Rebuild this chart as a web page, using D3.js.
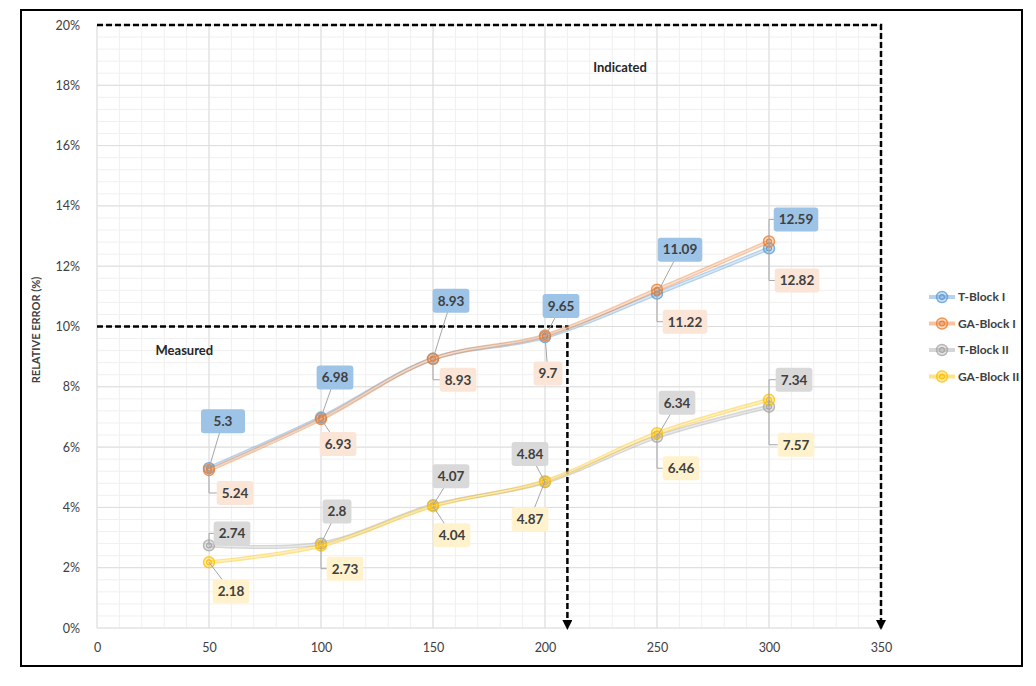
<!DOCTYPE html>
<html>
<head>
<meta charset="utf-8">
<script src="https://cdn.jsdelivr.net/npm/d3@7"></script>
<style>
  body { margin: 0; background: #fff; }
  text { font-family: Lato, "Open Sans", sans-serif; }
</style>
</head>
<body>
<div id="chart"></div>
<script>
// chart size and plot area
const width = 1036, height = 686;
const margins = { top: 25, bottom: 58, left: 97, right: 155 };

// data
const loads = [50, 100, 150, 200, 250, 300];
const seriesNames = ["T-Block I", "GA-Block I", "T-Block II", "GA-Block II"];
const tBlock1 = [5.3, 6.98, 8.93, 9.65, 11.09, 12.59];
const gaBlock1 = [5.24, 6.93, 8.93, 9.7, 11.22, 12.82];
const tBlock2 = [2.74, 2.8, 4.07, 4.84, 6.34, 7.34];
const gaBlock2 = [2.18, 2.73, 4.04, 4.87, 6.46, 7.57];
const xTicks = [0, 50, 100, 150, 200, 250, 300, 350];
const yTicks = [0, 2, 4, 6, 8, 10, 12, 14, 16, 18, 20];

// reference guides (dashed) and their notes
const measuredLimit = { x: 210, y: 10 };
const indicatedLimit = { x: 350, y: 20 };
const notes = [
  { text: "Measured", x: 39, y: 9.2 },
  { text: "Indicated", x: 233.5, y: 18.6 }
];

// styling per series
const lineColors = ["#5b9bd5", "#ed7d31", "#a5a5a5", "#ffc000"];
const boxColors = ["#9dc3e6", "#fbe5d6", "#d9d9d9", "#fff2cc"];

// label offsets from the point in px [dx, dy, elbow, min box width]
const labelOffsets = [
  [[14, -47, 0, 44], [14, -40, 0, 0], [18, -58, 0, 0], [16, -31, 0, 0], [23, -44, 0, 0], [27, -29, 1, 0]],
  [[26, 23, 1, 0], [17, 25, 0, 0], [25, 21, 1, 0], [3, 38, 0, 0], [28, 32, 1, 0], [28, 39, 1, 0]],
  [[23, -12, 1, 0], [16, -32, 0, 0], [18, -29, 0, 0], [-15, -28, 0, 0], [20, -34, 0, 0], [25, -27, 1, 0]],
  [[22, 29, 0, 0], [24, 23, 1, 0], [19, 29, 0, 0], [-15, 38, 0, 0], [24, 35, 1, 0], [27, 45, 1, 0]]
];

const allSeries = [tBlock1, gaBlock1, tBlock2, gaBlock2].map((vals, i) => ({
  name: seriesNames[i],
  color: lineColors[i],
  box: boxColors[i],
  values: vals.map((v, j) => ({ x: loads[j], y: v, off: labelOffsets[i][j] }))
}));

const svg = d3.select("#chart").append("svg")
  .attr("width", width)
  .attr("height", height);

svg.append("rect")
  .attr("width", width).attr("height", height)
  .attr("fill", "#fff");

const xScale = d3.scaleLinear()
  .domain([0, 350])
  .range([margins.left, 881]);

const yScale = d3.scaleLinear()
  .domain([0, 20])
  .range([628, margins.top]);

// minor grid
const minorX = d3.range(0, 351, 10);
const minorY = d3.range(0, 20.01, 0.4);
svg.append("g").selectAll("line")
  .data(minorX)
  .join("line")
  .attr("x1", d => xScale(d)).attr("x2", d => xScale(d))
  .attr("y1", yScale(0)).attr("y2", yScale(20))
  .attr("stroke", "#f0f0f0").attr("stroke-width", 1);
svg.append("g").selectAll("line")
  .data(minorY)
  .join("line")
  .attr("x1", xScale(0)).attr("x2", xScale(350))
  .attr("y1", d => yScale(d)).attr("y2", d => yScale(d))
  .attr("stroke", "#f0f0f0").attr("stroke-width", 1);

// major grid
svg.append("g").selectAll("line")
  .data(xTicks)
  .join("line")
  .attr("x1", d => xScale(d)).attr("x2", d => xScale(d))
  .attr("y1", yScale(0)).attr("y2", yScale(20))
  .attr("stroke", "#dcdcdc").attr("stroke-width", 1);
svg.append("g").selectAll("line")
  .data(yTicks)
  .join("line")
  .attr("x1", xScale(0)).attr("x2", xScale(350))
  .attr("y1", d => yScale(d)).attr("y2", d => yScale(d))
  .attr("stroke", "#dcdcdc").attr("stroke-width", 1);

// axes
const yAxis = svg.append("g")
  .attr("transform", `translate(${margins.left - 14},0)`)
  .call(d3.axisLeft(yScale).tickValues(yTicks).tickFormat(d => d + "%").tickSize(0))
  .call(g => g.select(".domain").remove());
yAxis.selectAll("text")
  .style("font-family", "Lato, sans-serif")
  .style("font-size", "12.5px")
  .attr("fill", "#404040");

const xAxis = svg.append("g")
  .attr("transform", `translate(0,${yScale(0) + 12})`)
  .call(d3.axisBottom(xScale).tickValues(xTicks).tickSize(0))
  .call(g => g.select(".domain").remove());
xAxis.selectAll("text")
  .style("font-family", "Lato, sans-serif")
  .style("font-size", "12.5px")
  .attr("fill", "#404040");

svg.append("text")
  .attr("transform", `translate(40,${330})rotate(-90)`)
  .attr("text-anchor", "middle")
  .style("font-size", "11px")
  .style("font-weight", "bold")
  .attr("fill", "#404040")
  .text("RELATIVE ERROR (%)");

// dashed guides
svg.append("defs").append("marker")
  .attr("id", "arrow")
  .attr("viewBox", "0 0 10 10")
  .attr("refX", 8).attr("refY", 5)
  .attr("markerWidth", 4).attr("markerHeight", 4)
  .attr("orient", "auto")
  .append("path")
  .attr("d", "M0,0L10,5L0,10Z")
  .attr("fill", "#000");

[measuredLimit, indicatedLimit].forEach(g => {
  svg.append("path")
    .attr("d", `M${xScale(0)},${yScale(g.y)}H${xScale(g.x)}V${yScale(0)}`)
    .attr("fill", "none")
    .attr("stroke", "#000")
    .attr("stroke-width", 2.5)
    .attr("stroke-dasharray", "6,3")
    .attr("marker-end", "url(#arrow)");
});

svg.selectAll(".note")
  .data(notes)
  .join("text")
  .attr("class", "note")
  .attr("x", d => xScale(d.x))
  .attr("y", d => yScale(d.y))
  .attr("dy", "0.35em")
  .attr("text-anchor", "middle")
  .style("font-size", "13px")
  .style("font-weight", "bold")
  .attr("fill", "#262626")
  .text(d => d.text);

// lines
const line = d3.line()
  .x(d => xScale(d.x))
  .y(d => yScale(d.y))
  .curve(d3.curveCatmullRom.alpha(0.5));

const seriesG = svg.append("g").selectAll("g")
  .data(allSeries)
  .join("g");

seriesG.append("path")
  .attr("d", d => line(d.values))
  .attr("fill", "none")
  .attr("stroke", d => d.color)
  .attr("stroke-opacity", 0.45)
  .attr("stroke-width", 4);
seriesG.append("path")
  .attr("d", d => line(d.values))
  .attr("fill", "none")
  .attr("stroke", "#fff")
  .attr("stroke-opacity", 0.5)
  .attr("stroke-width", 1.4);

// markers
function drawMarker(sel, color) {
  sel.append("circle")
    .attr("r", 5.5)
    .attr("fill", color).attr("fill-opacity", 0.3)
    .attr("stroke", color).attr("stroke-opacity", 0.8).attr("stroke-width", 1.4);
  sel.append("circle")
    .attr("r", 2.4)
    .attr("fill", "none")
    .attr("stroke", color).attr("stroke-width", 1.1);
}

seriesG.each(function(s) {
  d3.select(this).selectAll(".pt")
    .data(s.values)
    .join("g")
    .attr("class", "pt")
    .attr("transform", d => `translate(${xScale(d.x)},${yScale(d.y)})`)
    .call(g => drawMarker(g, s.color));
});

// callout labels
const labelG = svg.append("g");
allSeries.forEach(s => {
  s.values.forEach(d => {
    const px = xScale(d.x), py = yScale(d.y);
    const bx = px + d.off[0], by = py + d.off[1];
    const leader = d.off[2]
      ? `M${px},${py}V${by}H${bx}`
      : `M${px},${py}L${bx},${by}`;
    labelG.append("path")
      .attr("d", leader)
      .attr("fill", "none")
      .attr("stroke", "#a6a6a6")
      .attr("stroke-width", 1);
    const t = labelG.append("text")
      .attr("x", bx).attr("y", by)
      .attr("dy", "0.36em")
      .attr("text-anchor", "middle")
      .style("font-size", "13.5px")
      .style("font-weight", "bold")
      .attr("fill", "#404040")
      .text(d.y);
    const w = Math.max(t.node().getComputedTextLength() + 10, d.off[3]);
    labelG.insert("rect", () => t.node())
      .attr("x", bx - w / 2).attr("y", by - 12)
      .attr("width", w).attr("height", 24)
      .attr("rx", 3)
      .attr("fill", s.box);
  });
});

// legend
const legend = svg.append("g")
  .attr("transform", "translate(929,297)");
const legItems = legend.selectAll("g")
  .data(allSeries)
  .join("g")
  .attr("transform", (d, i) => `translate(0,${i * 26.5})`);
legItems.append("line")
  .attr("x1", 0).attr("x2", 26)
  .attr("stroke", d => d.color)
  .attr("stroke-opacity", 0.45)
  .attr("stroke-width", 4);
legItems.each(function(d) {
  d3.select(this).append("g")
    .attr("transform", "translate(13,0)")
    .call(g => drawMarker(g, d.color));
});
legItems.append("text")
  .attr("x", 29)
  .attr("dy", "0.35em")
  .style("font-size", "12px")
  .style("font-weight", "bold")
  .attr("fill", "#404040")
  .text(d => d.name);

// outer frame
svg.append("rect")
  .attr("x", 21).attr("y", 10)
  .attr("width", 1001).attr("height", 656)
  .attr("fill", "none")
  .attr("stroke", "#000")
  .attr("stroke-width", 2);
</script>
</body>
</html>
